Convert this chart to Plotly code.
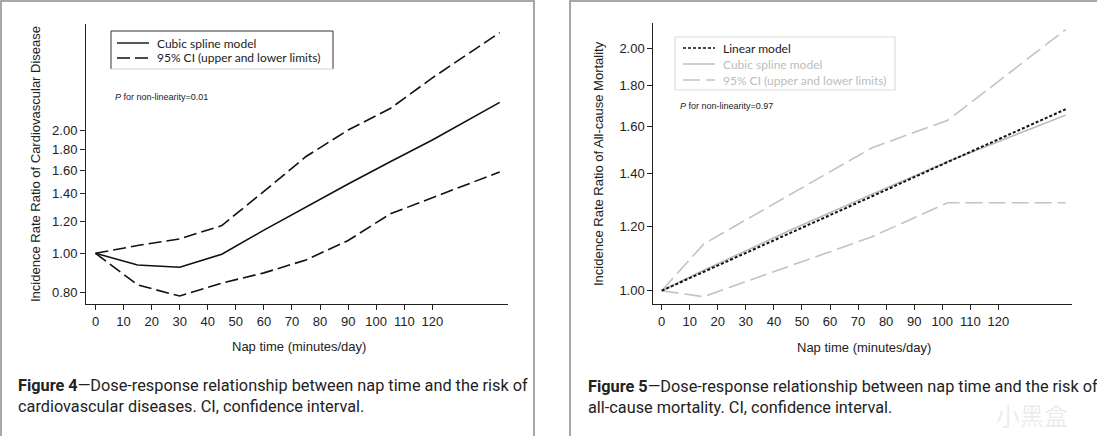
import plotly.graph_objects as go

W, H = 1097, 436

# ---------------- data ----------------
# Figure 4: cardiovascular disease
cvd_nap = [0, 15, 30, 45, 60, 75, 90, 105, 120, 144]
cvd_spline = [1.00, 0.936, 0.924, 0.995, 1.14, 1.30, 1.48, 1.68, 1.90, 2.35]
cvd_upper = [1.00, 1.045, 1.085, 1.17, 1.42, 1.73, 2.01, 2.27, 2.70, 3.49]
cvd_lower = [1.00, 0.836, 0.785, 0.845, 0.895, 0.963, 1.075, 1.25, 1.37, 1.585]

# Figure 5: all-cause mortality
mort_nap = [0, 15, 75, 102, 144]
mort_linear = [1.00, 1.055, 1.31, 1.445, 1.68]
mort_spline_nap = [0, 15, 45, 75, 102, 144]
mort_spline = [1.00, 1.06, 1.185, 1.318, 1.447, 1.652]
mort_upper = [1.00, 1.143, 1.505, 1.628, 2.11]
mort_lower = [1.00, 0.983, 1.167, 1.286, 1.286]

x_ticks = [0, 10, 20, 30, 40, 50, 60, 70, 80, 90, 100, 110, 120]
cvd_yticks = [0.8, 1.0, 1.2, 1.4, 1.6, 1.8, 2.0]
mort_yticks = [1.0, 1.2, 1.4, 1.6, 1.8, 2.0]

# ---------------- helpers ----------------
def px(x):
    return x / W

def py(y):
    return 1 - y / H

AX_FONT = dict(family="Liberation Sans, Arial, sans-serif", size=13, color="#222")
LEG_FONT = "Lato, Open Sans, sans-serif"
CAP_FONT = "Roboto, Liberation Sans, sans-serif"
GRAY = "#c3c3c3"

fig = go.Figure()

# Figure 4 traces
fig.add_trace(go.Scatter(x=cvd_nap, y=cvd_spline, mode="lines", xaxis="x", yaxis="y",
                         line=dict(color="#111", width=1.6), showlegend=False))
fig.add_trace(go.Scatter(x=cvd_nap, y=cvd_upper, mode="lines", xaxis="x", yaxis="y",
                         line=dict(color="#111", width=1.6, dash="13px,5px"), showlegend=False))
fig.add_trace(go.Scatter(x=cvd_nap, y=cvd_lower, mode="lines", xaxis="x", yaxis="y",
                         line=dict(color="#111", width=1.6, dash="13px,5px"), showlegend=False))

# Figure 5 traces
fig.add_trace(go.Scatter(x=mort_nap, y=mort_upper, mode="lines", xaxis="x2", yaxis="y2",
                         line=dict(color=GRAY, width=1.6, dash="17px,6px"), showlegend=False))
fig.add_trace(go.Scatter(x=mort_nap, y=mort_lower, mode="lines", xaxis="x2", yaxis="y2",
                         line=dict(color=GRAY, width=1.6, dash="17px,6px"), showlegend=False))
fig.add_trace(go.Scatter(x=mort_spline_nap, y=mort_spline, mode="lines", xaxis="x2", yaxis="y2",
                         line=dict(color="#b8b8b8", width=1.6), showlegend=False))
fig.add_trace(go.Scatter(x=mort_nap, y=mort_linear, mode="lines", xaxis="x2", yaxis="y2",
                         line=dict(color="#111", width=2, dash="3px,2px"), showlegend=False))

common_x = dict(showline=True, linecolor="#222", linewidth=1, ticks="outside", ticklen=5,
                tickcolor="#222", tickwidth=1, showgrid=False, zeroline=False,
                tickfont=AX_FONT, tickvals=x_ticks, ticktext=[str(v) for v in x_ticks])
common_y = dict(type="log", showline=True, linecolor="#222", linewidth=1, ticks="outside",
                ticklen=5, tickcolor="#222", tickwidth=1, showgrid=False, zeroline=False,
                tickfont=AX_FONT)

fig.update_layout(
    width=W, height=H, autosize=False,
    margin=dict(l=0, r=0, t=0, b=0, pad=0),
    paper_bgcolor="white", plot_bgcolor="white",
    hovermode=False,
    xaxis=dict(domain=[px(86), px(508)], range=[-3.38, 146.95], anchor="y", **common_x),
    yaxis=dict(domain=[py(304), py(24)], range=[-0.1247, 0.5639], anchor="x",
               tickvals=cvd_yticks, ticktext=[f"{v:.2f}" for v in cvd_yticks], **common_y),
    xaxis2=dict(domain=[px(653.3), px(1072.4)], range=[-2.99, 146.4], anchor="y2", **common_x),
    yaxis2=dict(domain=[py(304), py(23)], range=[-0.01652, 0.3324], anchor="x2",
                tickvals=mort_yticks, ticktext=[f"{v:.2f}" for v in mort_yticks], **common_y),
)

shapes = []
annots = []

# panel frames
shapes.append(dict(type="rect", xref="paper", yref="paper", x0=px(1), x1=px(534), y0=py(438), y1=py(1),
                   line=dict(color="#8c8c8c", width=1.5)))
shapes.append(dict(type="rect", xref="paper", yref="paper", x0=px(570), x1=px(1100), y0=py(438), y1=py(1),
                   line=dict(color="#8c8c8c", width=1.5)))

# ---- left legend ----
for (x0, y0, x1, y1, c) in [(111, 31, 333, 31, "#333"), (111, 31, 111, 69, "#333"),
                            (333, 31, 333, 69, "#333"), (111, 69, 333, 69, "#d0d0d0")]:
    shapes.append(dict(type="line", xref="paper", yref="paper", x0=px(x0), x1=px(x1),
                       y0=py(y0), y1=py(y1), line=dict(color=c, width=1)))
shapes.append(dict(type="line", xref="paper", yref="paper", x0=px(117), x1=px(149), y0=py(43), y1=py(43),
                   line=dict(color="#111", width=1.4)))
shapes.append(dict(type="line", xref="paper", yref="paper", x0=px(117), x1=px(149), y0=py(58), y1=py(58),
                   line=dict(color="#111", width=1.4, dash="13px,5px")))
annots.append(dict(text="Cubic spline model", x=px(155), y=py(43), xanchor="left", yanchor="middle",
                   font=dict(family=LEG_FONT, size=12, color="#222")))
annots.append(dict(text="95% CI (upper and lower limits)", x=px(155), y=py(58), xanchor="left",
                   yanchor="middle", font=dict(family=LEG_FONT, size=12, color="#222")))
annots.append(dict(text="<i>P</i> for non-linearity=0.01", x=px(113), y=py(97), xanchor="left",
                   yanchor="middle", font=dict(family="Liberation Sans, Arial, sans-serif", size=9, color="#222")))

# ---- right legend ----
shapes.append(dict(type="rect", xref="paper", yref="paper", x0=px(675), x1=px(895), y0=py(90), y1=py(37),
                   line=dict(color="#dcdcdc", width=1.2)))
shapes.append(dict(type="line", xref="paper", yref="paper", x0=px(683), x1=px(715), y0=py(48), y1=py(48),
                   line=dict(color="#111", width=1.6, dash="3px,2px")))
shapes.append(dict(type="line", xref="paper", yref="paper", x0=px(683), x1=px(715), y0=py(64), y1=py(64),
                   line=dict(color="#b8b8b8", width=1.4)))
shapes.append(dict(type="line", xref="paper", yref="paper", x0=px(683), x1=px(715), y0=py(80), y1=py(80),
                   line=dict(color=GRAY, width=1.4, dash="17px,6px")))
annots.append(dict(text="Linear model", x=px(721), y=py(48), xanchor="left", yanchor="middle",
                   font=dict(family=LEG_FONT, size=12, color="#222")))
annots.append(dict(text="Cubic spline model", x=px(721), y=py(64), xanchor="left", yanchor="middle",
                   font=dict(family=LEG_FONT, size=12, color="#bdbdbd")))
annots.append(dict(text="95% CI (upper and lower limits)", x=px(721), y=py(80), xanchor="left",
                   yanchor="middle", font=dict(family=LEG_FONT, size=12, color="#bdbdbd")))
annots.append(dict(text="<i>P</i> for non-linearity=0.97", x=px(678), y=py(106), xanchor="left",
                   yanchor="middle", font=dict(family="Liberation Sans, Arial, sans-serif", size=9, color="#222")))

# ---- axis titles ----
annots.append(dict(text="Incidence Rate Ratio of Cardiovascular Disease", x=px(36), y=py(164),
                   textangle=-90, xanchor="center", yanchor="middle", font=AX_FONT))
annots.append(dict(text="Incidence Rate Ratio of All-cause Mortality", x=px(598.5), y=py(163.5),
                   textangle=-90, xanchor="center", yanchor="middle", font=AX_FONT))
annots.append(dict(text="Nap time (minutes/day)", x=px(299), y=py(346), xanchor="center",
                   yanchor="middle", font=AX_FONT))
annots.append(dict(text="Nap time (minutes/day)", x=px(864), y=py(347), xanchor="center",
                   yanchor="middle", font=AX_FONT))

# ---- captions ----
annots.append(dict(text="<b>Figure 4</b>\u2014Dose-response relationship between nap time and the risk of<br>"
                        "cardiovascular diseases. CI, confidence interval.",
                   x=px(16), y=py(396), xanchor="left", yanchor="middle", align="left",
                   font=dict(family=CAP_FONT, size=16.3, color="#222")))
annots.append(dict(text="<b>Figure 5</b>\u2014Dose-response relationship between nap time and the risk of<br>"
                        "all-cause mortality. CI, confidence interval.",
                   x=px(586), y=py(396.5), xanchor="left", yanchor="middle", align="left",
                   font=dict(family=CAP_FONT, size=16.3, color="#222")))

# watermark
annots.append(dict(text="小黑盒", x=px(1070), y=py(414), xanchor="right", yanchor="middle",
                   font=dict(family="Noto Sans CJK SC", size=24, color="rgba(200,200,200,0.35)")))

for a in annots:
    a.setdefault("xref", "paper")
    a.setdefault("yref", "paper")
    a.setdefault("showarrow", False)

fig.update_layout(shapes=shapes, annotations=annots)
fig.write_html("out.html", config={"displayModeBar": False, "staticPlot": True},
               post_script="document.body.style.margin='0';")
